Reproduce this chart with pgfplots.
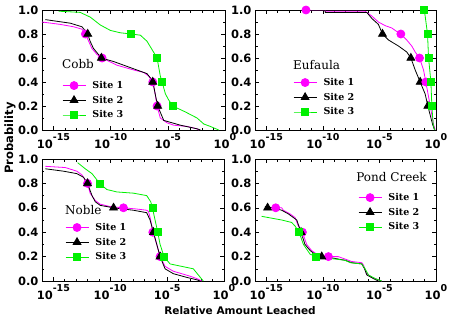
\documentclass[border=0pt]{standalone}
\usepackage{fontspec}
\setmainfont{DejaVu Serif}
\setsansfont{DejaVu Sans}
\newfontfamily\titlefont{DejaVu Serif}
\usepackage{pgfplots}
\pgfplotsset{compat=1.18}
\definecolor{mymag}{RGB}{255,0,255}
\definecolor{mygreen}{RGB}{0,240,0}
\newcommand{\tk}[1]{10\raisebox{7.8pt}{\fontsize{9.5}{9.5}\selectfont #1}}
\pgfplotsset{
  panel/.style={
    scale only axis, anchor=south west,
    ymin=0, ymax=1,
    ytick={0,0.2,0.4,0.6,0.8,1.0}, minor ytick={0.1,0.3,0.5,0.7,0.9},
    tick label style={font=\sffamily\bfseries\fontsize{11.5}{13}\selectfont},
    major tick length=4pt, minor tick length=2.5pt,
    tick style={black, line width=0.6pt},
    axis line style={line width=0.8pt},
    clip mode=individual,
    legend cell align=left,
    legend style={draw=none, fill=none, inner sep=0pt, anchor=north west,
      font=\rmfamily\bfseries\fontsize{9.5}{11}\selectfont,
      row sep=5pt, column sep=6pt, nodes={inner sep=0.5pt}},
  },
  s1/.style={mymag, line width=0.8pt},
  s2/.style={black, line width=0.8pt},
  s3/.style={mygreen, line width=0.8pt},
  m1/.style={mark=*, mark size=4pt, mark options={solid, fill=mymag, draw=mymag}},
  m2/.style={mark=triangle*, mark size=4.5pt, mark options={solid, fill=black, draw=black}},
  m3/.style={mark=square*, mark size=3.5pt, mark options={solid, fill=mygreen, draw=mygreen}},
}
\pgfplotsset{legend image code/.code={\draw[mark repeat=2,mark phase=2,#1] plot coordinates {(0pt,0pt) (11.5pt,0pt) (23pt,0pt)};}}
\tikzset{ttl/.style={font=\titlefont\fontsize{12}{14}\selectfont, inner sep=0pt}}
\begin{document}
\begin{tikzpicture}
\path[use as bounding box] (0,0) rectangle (452pt,325pt);
% ---------------- Cobb
\begin{axis}[xmode=log, xmin=1e-16, xmax=1,
  xtick={1e-15,1e-10,1e-5,1},
  xticklabels={\tk{-15},\tk{-10},\tk{-5},\tk{0}},
  minor xtick={1e-16,1e-14,1e-13,1e-12,1e-11,1e-9,1e-8,1e-7,1e-6,1e-4,1e-3,1e-2,1e-1},
  /pgf/number format/assume math mode=true,
  yticklabel style={/pgf/number format/fixed,/pgf/number format/fixed zerofill,/pgf/number format/precision=1},
  panel, at={(42pt,195pt)}, width=183pt, height=120pt,
  legend style={at={(0.109,0.4125)}}]
\addplot[s1, forget plot] coordinates {(1e-16,0.90) (4e-15,0.88) (5.9e-14,0.86) (3.16e-13,0.84) (6.2e-13,0.80) (1.2e-12,0.74) (2.3e-12,0.68) (6.3e-12,0.63) (1.8e-11,0.60) (3.6e-10,0.54) (1.05e-8,0.50) (7.8e-8,0.48) (2.1e-7,0.45) (4.8e-7,0.40) (7.9e-7,0.30) (1.15e-6,0.20) (2.2e-6,0.10) (8.5e-6,0.06) (3.3e-5,0.04) (4.8e-4,0.03) (3.6e-3,0.01) (5e-3,0)};
\addplot[s2, forget plot] coordinates {(1.95e-16,0.92) (3.0e-14,0.89) (3.16e-13,0.86) (1e-12,0.80) (1.6e-12,0.74) (3.16e-12,0.68) (1.55e-11,0.60) (1.9e-10,0.57) (2.0e-8,0.50) (1.5e-7,0.47) (4.8e-7,0.41) (7.9e-7,0.30) (1.3e-6,0.20) (4.4e-6,0.08) (1.26e-4,0.04) (3.6e-3,0.01) (7.1e-3,0)};
\addplot[s3, forget plot] coordinates {(2.9e-15,0.99) (2.2e-13,0.98) (1.7e-12,0.94) (1.26e-11,0.875) (9.5e-11,0.83) (7.1e-10,0.81) (6.5e-9,0.80) (4.0e-8,0.79) (1.5e-7,0.74) (4.2e-7,0.67) (1.15e-6,0.60) (2.2e-6,0.45) (3.16e-6,0.40) (6.2e-6,0.30) (1.2e-5,0.25) (2.7e-5,0.20) (3.5e-4,0.15) (3.6e-3,0.10) (1.4e-2,0.05) (5.2e-2,0.03) (0.28,0)};
\addplot[s1, m1, only marks, forget plot] coordinates {(6.2e-13,0.8) (1.8e-11,0.6) (4.8e-7,0.4) (1.15e-6,0.2)};
\addplot[s2, m2, only marks, forget plot] coordinates {(1e-12,0.8) (1.55e-11,0.6) (4.8e-7,0.4) (1.3e-6,0.2)};
\addplot[s3, m3, only marks, forget plot] coordinates {(6.5e-9,0.8) (1.15e-6,0.6) (3.16e-6,0.4) (2.7e-5,0.2)};
\addlegendimage{s1, m1}\addlegendentry{Site 1}
\addlegendimage{s2, m2}\addlegendentry{Site 2}
\addlegendimage{s3, m3}\addlegendentry{Site 3}
\node[ttl, anchor=base west] at (rel axis cs:0.109,0.514) {Cobb};
\end{axis}
% ---------------- Eufaula
\begin{axis}[xmode=log, xmin=1e-16, xmax=1,
  xtick={1e-15,1e-10,1e-5,1},
  xticklabels={\tk{-15},\tk{-10},\tk{-5},\tk{0}},
  minor xtick={1e-16,1e-14,1e-13,1e-12,1e-11,1e-9,1e-8,1e-7,1e-6,1e-4,1e-3,1e-2,1e-1},
  /pgf/number format/assume math mode=true,
  yticklabel style={/pgf/number format/fixed,/pgf/number format/fixed zerofill,/pgf/number format/precision=1},
  panel, at={(255pt,195pt)}, width=181pt, height=120pt,
  legend style={at={(0.21,0.4375)}}]
\addplot[s1, forget plot] coordinates {(3.2e-12,1.0) (1.55e-10,1.0) (1.6e-10,0.99) (5.4e-7,0.99) (2.1e-6,0.95) (8.1e-6,0.90) (3.16e-5,0.87) (1.23e-4,0.85) (3.5e-4,0.82) (7.8e-4,0.80) (2.6e-3,0.75) (7.2e-3,0.70) (1.45e-2,0.65) (3.5e-2,0.60) (7.9e-2,0.50) (0.126,0.40) (0.31,0.20) (0.6,0.05) (0.85,0)};
\addplot[s2, forget plot] coordinates {(3.2e-12,1.0) (1.55e-10,1.0) (1.6e-10,0.98) (7.6e-7,0.98) (2.1e-6,0.93) (8.1e-6,0.88) (1.86e-5,0.80) (6.3e-5,0.75) (4.8e-4,0.70) (2.6e-3,0.65) (6.0e-3,0.60) (1.45e-2,0.50) (4.0e-2,0.40) (0.11,0.30) (0.19,0.20) (0.49,0.05) (0.74,0)};
\addplot[s3, forget plot] coordinates {(9.1e-2,1.0) (0.11,0.95) (0.178,0.80) (0.22,0.60) (0.355,0.40) (0.43,0.20) (0.56,0.05) (0.74,0)};
\addplot[s2, m2, only marks, forget plot] coordinates {(1.86e-5,0.8) (6.0e-3,0.6) (4.0e-2,0.4) (0.19,0.2)};
\addplot[s1, m1, only marks, forget plot] coordinates {(3.2e-12,1.0) (7.8e-4,0.8) (3.5e-2,0.6) (0.126,0.4)};
\addplot[s3, m3, only marks, forget plot] coordinates {(9.1e-2,1.0) (0.178,0.8) (0.22,0.6) (0.355,0.4) (0.43,0.2)};
\addlegendimage{s1, m1}\addlegendentry{Site 1}
\addlegendimage{s2, m2}\addlegendentry{Site 2}
\addlegendimage{s3, m3}\addlegendentry{Site 3}
\node[ttl, anchor=base west] at (rel axis cs:0.21,0.508) {Eufaula};
\end{axis}
% ---------------- Noble
\begin{axis}[xmode=log, xmin=1e-16, xmax=1,
  xtick={1e-15,1e-10,1e-5,1},
  xticklabels={\tk{-15},\tk{-10},\tk{-5},\tk{0}},
  minor xtick={1e-16,1e-14,1e-13,1e-12,1e-11,1e-9,1e-8,1e-7,1e-6,1e-4,1e-3,1e-2,1e-1},
  /pgf/number format/assume math mode=true,
  yticklabel style={/pgf/number format/fixed,/pgf/number format/fixed zerofill,/pgf/number format/precision=1},
  panel, at={(42pt,44pt)}, width=182pt, height=122pt,
  legend style={at={(0.126,0.48)}}]
\addplot[s1, forget plot] coordinates {(1.95e-16,0.94) (1.12e-14,0.93) (1.17e-13,0.90) (3.2e-13,0.87) (1e-12,0.80) (1.7e-12,0.72) (4.8e-12,0.66) (1.3e-11,0.63) (9.8e-11,0.61) (1.45e-9,0.60) (2.1e-8,0.59) (1.6e-7,0.58) (2.3e-7,0.57) (3.6e-7,0.50) (5.5e-7,0.40) (1.23e-6,0.30) (2.4e-6,0.20) (6.6e-6,0.12) (3.5e-5,0.08) (1.9e-4,0.06) (1.0e-3,0.04) (4.0e-3,0.02) (1.1e-2,0)};
\addplot[s2, forget plot] coordinates {(1.95e-16,0.92) (7.9e-15,0.90) (1.17e-13,0.88) (4.5e-13,0.85) (1e-12,0.80) (2.5e-12,0.70) (4.8e-12,0.65) (1.3e-11,0.62) (1.95e-10,0.60) (1.1e-8,0.58) (1.6e-7,0.56) (3.16e-7,0.50) (6.3e-7,0.40) (1.23e-6,0.30) (2.4e-6,0.20) (6.6e-6,0.10) (3.5e-5,0.06) (5.2e-4,0.03) (4.0e-3,0.01) (7.8e-3,0)};
\addplot[s3, forget plot] coordinates {(1.35e-13,0.97) (6.3e-13,0.92) (2.5e-12,0.88) (6.6e-12,0.83) (1.15e-11,0.80) (5.0e-11,0.75) (3.8e-10,0.73) (1.1e-8,0.72) (1.6e-7,0.70) (3.6e-7,0.65) (5.1e-7,0.60) (8.7e-7,0.50) (1.5e-6,0.40) (2.4e-6,0.30) (5.4e-6,0.20) (1.8e-5,0.14) (1.9e-4,0.12) (2.0e-3,0.10) (5.5e-3,0.05) (1.5e-2,0)};
\addplot[s1, m1, only marks, forget plot] coordinates {(1e-12,0.8) (1.45e-9,0.6) (5.5e-7,0.4) (2.4e-6,0.2)};
\addplot[s2, m2, only marks, forget plot] coordinates {(1e-12,0.8) (1.95e-10,0.6) (6.3e-7,0.4) (2.4e-6,0.2)};
\addplot[s3, m3, only marks, forget plot] coordinates {(1.15e-11,0.8) (5.1e-7,0.6) (1.5e-6,0.4) (5.4e-6,0.2)};
\addlegendimage{s1, m1}\addlegendentry{Site 1}
\addlegendimage{s2, m2}\addlegendentry{Site 2}
\addlegendimage{s3, m3}\addlegendentry{Site 3}
\node[ttl, anchor=base west] at (rel axis cs:0.126,0.549) {Noble};
\end{axis}
% ---------------- Pond Creek
\begin{axis}[xmode=log, xmin=1e-16, xmax=1,
  xtick={1e-15,1e-10,1e-5,1},
  xticklabels={\tk{-15},\tk{-10},\tk{-5},\tk{0}},
  minor xtick={1e-16,1e-14,1e-13,1e-12,1e-11,1e-9,1e-8,1e-7,1e-6,1e-4,1e-3,1e-2,1e-1},
  /pgf/number format/assume math mode=true,
  yticklabel style={/pgf/number format/fixed,/pgf/number format/fixed zerofill,/pgf/number format/precision=1},
  panel, at={(255pt,44pt)}, width=181pt, height=122pt,
  legend style={at={(0.569,0.725)}}]
\addplot[s1, forget plot] coordinates {(1.07e-15,0.60) (2.3e-14,0.60) (3.2e-14,0.58) (1.26e-13,0.55) (3.5e-13,0.52) (6.8e-13,0.45) (1.55e-12,0.40) (3.7e-12,0.30) (1.0e-11,0.25) (2.9e-11,0.22) (7.9e-11,0.21) (3.1e-10,0.20) (2.3e-9,0.20) (9.1e-9,0.18) (3.5e-8,0.16) (2.75e-7,0.15) (3.9e-7,0.13) (7.6e-7,0.06) (2.1e-6,0.03) (8.1e-6,0.01) (1.6e-5,0)};
\addplot[s2, forget plot] coordinates {(7.6e-16,0.61) (4.2e-15,0.60) (2.3e-14,0.58) (8.9e-14,0.55) (4.9e-13,0.50) (1.17e-12,0.40) (2.6e-12,0.30) (7.4e-12,0.25) (2.0e-11,0.22) (7.9e-11,0.20) (6.0e-10,0.19) (9.1e-9,0.17) (3.5e-8,0.15) (2.75e-7,0.14) (4.8e-7,0.10) (7.6e-7,0.05) (2.95e-6,0.02) (8.1e-6,0)};
\addplot[s3, forget plot] coordinates {(3.9e-16,0.53) (2.3e-14,0.50) (1.74e-13,0.48) (3.5e-13,0.45) (7.8e-13,0.40) (1.9e-12,0.30) (7.4e-12,0.22) (2.3e-11,0.20) (1.55e-10,0.19) (1.2e-9,0.18) (9.1e-9,0.17) (2.6e-8,0.15) (2.75e-7,0.14) (5.4e-7,0.10) (1.07e-6,0.05) (4.2e-6,0.02) (1.6e-5,0)};
\addplot[s1, m1, only marks, forget plot] coordinates {(6.8e-15,0.6) (1.55e-12,0.4) (3.1e-10,0.2)};
\addplot[s2, m2, only marks, forget plot] coordinates {(1.3e-15,0.6) (1.17e-12,0.4) (7.9e-11,0.2)};
\addplot[s3, m3, only marks, forget plot] coordinates {(7.8e-13,0.4) (2.3e-11,0.2)};
\addlegendimage{s1, m1}\addlegendentry{Site 1}
\addlegendimage{s2, m2}\addlegendentry{Site 2}
\addlegendimage{s3, m3}\addlegendentry{Site 3}
\node[ttl, anchor=base east] at (rel axis cs:0.95,0.814) {Pond Creek};
\end{axis}
\node[rotate=90, font=\sffamily\bfseries\fontsize{11.5}{13}\selectfont] at (10pt,187pt) {Probability};
\node[font=\sffamily\bfseries\fontsize{10.5}{12}\selectfont] at (240pt,14pt) {Relative Amount Leached};
\end{tikzpicture}
\end{document}
